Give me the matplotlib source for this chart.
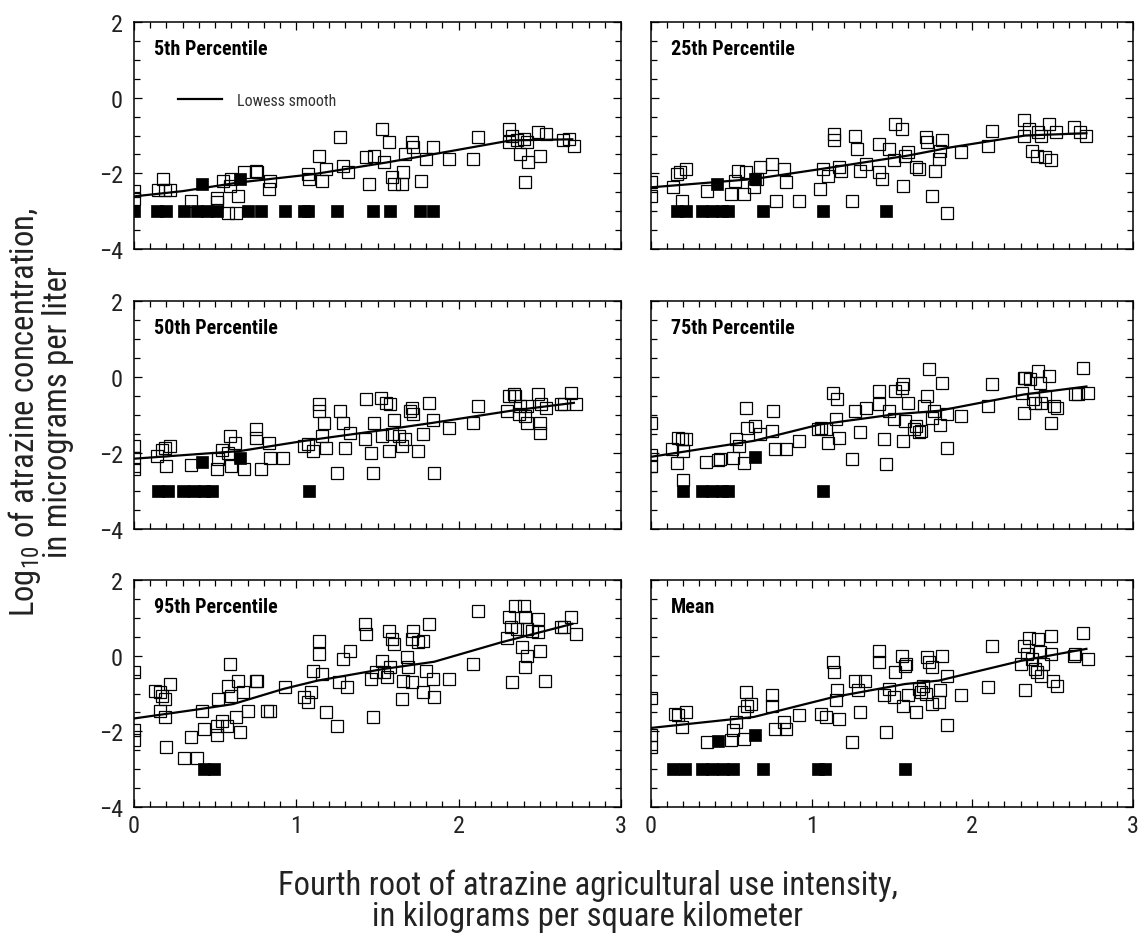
import matplotlib
matplotlib.use("Agg")
import matplotlib.pyplot as plt
from matplotlib.ticker import MultipleLocator

plt.rcParams["font.family"] = ["Roboto Condensed", "DejaVu Sans"]
plt.rcParams["mathtext.fontset"] = "custom"
plt.rcParams["mathtext.rm"] = "Roboto Condensed"
plt.rcParams["mathtext.it"] = "Roboto Condensed"
plt.rcParams["mathtext.bf"] = "Roboto Condensed:bold"

# --- 5th percentile ---
p05_x = [0, 0, 0.18, 0.15, 0.19, 0.22, 0.35, 0.51, 0.55, 0.59, 0.60, 0.64, 0.58, 0.63, 0.68, 0.75,
         0.76, 0.83, 0.84, 0.51, 1.07, 1.08, 1.14, 1.16, 1.18, 1.27, 1.29, 1.32, 1.43, 1.45, 1.48,
         1.53, 1.54, 1.57, 1.59, 1.60, 1.65, 1.66, 1.67, 1.71, 1.72, 1.77, 1.80, 1.84, 1.94, 2.12,
         2.09, 2.31, 2.33, 2.31, 2.36, 2.40, 2.41, 2.38, 2.43, 2.49, 2.50, 2.54, 2.64, 2.68, 2.71,
         2.42]
p05_y = [-2.46, -2.68, -2.15, -2.43, -2.43, -2.43, -2.73, -2.77, -2.19, -2.33, -2.15, -2.59, -3.04,
         -3.04, -1.97, -1.93, -1.97, -2.42, -2.19, -2.64, -2.02, -2.15, -1.53, -2.19, -1.88, -1.04,
         -1.80, -1.97, -1.58, -2.28, -1.53, -0.82, -1.71, -1.18, -2.11, -2.28, -2.28, -1.97, -1.49,
         -1.18, -1.31, -2.19, -1.62, -1.31, -1.62, -1.04, -1.62, -0.82, -1.00, -1.18, -1.13, -1.09,
         -2.24, -1.49, -1.71, -0.91, -1.53, -0.96, -1.13, -1.09, -1.27, -1.18]
p05_cens_x = [0, 0.14, 0.20, 0.31, 0.39, 0.45, 0.51, 0.70, 0.78, 0.93, 1.05, 1.07, 1.25, 1.47,
              1.58, 1.76, 1.84, 0.42, 0.65]
p05_cens_y = [-3, -3, -3, -3, -3, -3, -3, -3, -3, -3, -3, -3, -3, -3, -3, -3, -3, -2.28, -2.15]
p05_smooth_x = [0, 0.30, 0.65, 1.11, 1.56, 1.85, 2.32, 2.70]
p05_smooth_y = [-2.61, -2.47, -2.24, -2.02, -1.71, -1.49, -1.13, -1.10]

# --- 25th percentile ---
p25_x = [0, 0, 0.14, 0.16, 0.18, 0.22, 0.19, 0.35, 0.50, 0.52, 0.54, 0.59, 0.58, 0.64, 0.66,
         0.68, 0.75, 0.78, 0.83, 0.84, 0.92, 1.05, 1.07, 1.10, 1.14, 1.14, 1.17, 1.18, 1.25, 1.27,
         1.28, 1.30, 1.34, 1.42, 1.44, 1.42, 1.48, 1.52, 1.56, 1.51, 1.57, 1.58, 1.60, 1.65, 1.67,
         1.71, 1.72, 1.75, 1.77, 1.79, 1.81, 1.80, 1.84, 1.93, 2.10, 2.12, 2.32, 2.32, 2.35, 2.37,
         2.40, 2.41, 2.43, 2.45, 2.48, 2.49, 2.52, 2.63, 2.67, 2.71]
p25_y = [-2.24, -2.59, -2.37, -2.02, -1.97, -1.88, -2.73, -2.46, -2.55, -2.19, -1.93, -1.97, -2.55,
         -2.37, -2.15, -1.84, -1.75, -2.73, -1.88, -2.24, -2.73, -2.42, -1.88, -2.06, -0.96, -1.13,
         -1.84, -1.93, -2.73, -1.00, -1.35, -1.93, -1.75, -1.22, -2.15, -1.97, -1.35, -0.69, -0.82,
         -1.66, -2.33, -1.53, -1.44, -1.84, -1.88, -1.04, -1.18, -2.59, -1.93, -1.62, -1.13, -1.40,
         -3.04, -1.44, -1.27, -0.87, -0.60, -1.00, -0.82, -1.40, -1.53, -0.91, -1.00, -1.58, -0.69,
         -1.66, -0.91, -0.78, -0.91, -1.00]
p25_cens_x = [0.16, 0.22, 0.32, 0.38, 0.44, 0.48, 0.70, 1.07, 1.46, 0.41, 0.65]
p25_cens_y = [-3, -3, -3, -3, -3, -3, -3, -3, -3, -2.28, -2.15]
p25_smooth_x = [0, 0.64, 1.13, 1.60, 1.87, 2.33, 2.71]
p25_smooth_y = [-2.37, -2.15, -1.84, -1.53, -1.31, -1.00, -0.94]

# --- 50th percentile ---
p50_x = [0, 0, 0, 0.14, 0.17, 0.19, 0.22, 0.20, 0.35, 0.51, 0.52, 0.54, 0.58, 0.59, 0.60, 0.62,
         0.68, 0.75, 0.75, 0.78, 0.83, 0.84, 0.92, 1.05, 1.07, 1.10, 1.14, 1.14, 1.16, 1.17, 1.18,
         1.25, 1.27, 1.29, 1.30, 1.33, 1.42, 1.43, 1.46, 1.47, 1.48, 1.52, 1.53, 1.55, 1.58, 1.57,
         1.59, 1.60, 1.63, 1.65, 1.67, 1.70, 1.71, 1.72, 1.75, 1.78, 1.82, 1.84, 1.85, 1.94, 2.09,
         2.12, 2.30, 2.31, 2.34, 2.35, 2.37, 2.38, 2.41, 2.42, 2.42, 2.49, 2.50, 2.50, 2.51, 2.54,
         2.63, 2.65, 2.69, 2.72]
p50_y = [-1.82, -2.12, -2.43, -2.08, -1.91, -1.86, -1.82, -2.34, -2.32, -2.43, -2.17, -1.91, -1.99,
         -1.55, -2.34, -1.73, -2.43, -1.38, -1.60, -2.43, -1.73, -2.12, -2.12, -1.82, -1.77, -1.95,
         -0.72, -0.89, -1.55, -1.20, -1.86, -2.52, -0.89, -1.20, -1.86, -1.47, -1.64, -0.59, -1.99,
         -2.52, -1.20, -0.54, -1.55, -0.68, -0.72, -1.95, -1.51, -1.12, -1.55, -1.82, -1.64, -0.89,
         -0.81, -0.98, -1.95, -1.51, -0.68, -1.12, -2.52, -1.33, -1.20, -0.76, -0.89, -0.50, -0.46,
         -0.50, -0.98, -0.76, -1.03, -1.20, -0.76, -0.46, -1.47, -1.20, -0.72, -0.81, -0.72, -0.72,
         -0.41, -0.72]
p50_cens_x = [0.15, 0.21, 0.30, 0.37, 0.43, 0.48, 1.08, 0.42, 0.65]
p50_cens_y = [-3, -3, -3, -3, -3, -3, -3, -2.24, -2.12]
p50_smooth_x = [0, 0.65, 1.05, 1.56, 1.85, 2.32, 2.71]
p50_smooth_y = [-2.15, -1.95, -1.68, -1.38, -1.20, -0.89, -0.68]

# --- 75th percentile ---
p75_x = [0, 0, 0, 0.13, 0.16, 0.17, 0.19, 0.20, 0.22, 0.20, 0.34, 0.42, 0.43, 0.51, 0.53, 0.55,
         0.58, 0.59, 0.60, 0.65, 0.68, 0.75, 0.76, 0.77, 0.84, 0.92, 1.04, 1.06, 1.09, 1.10, 1.13,
         1.16, 1.15, 1.17, 1.25, 1.27, 1.30, 1.34, 1.42, 1.42, 1.45, 1.46, 1.48, 1.51, 1.52, 1.56,
         1.57, 1.57, 1.58, 1.60, 1.64, 1.65, 1.67, 1.68, 1.70, 1.72, 1.73, 1.75, 1.76, 1.80, 1.81,
         1.84, 1.84, 1.93, 2.10, 2.12, 2.31, 2.32, 2.32, 2.33, 2.36, 2.38, 2.39, 2.41, 2.42, 2.43,
         2.45, 2.48, 2.49, 2.51, 2.53, 2.64, 2.66, 2.69, 2.72]
p75_y = [-1.20, -2.04, -2.34, -1.90, -2.25, -1.60, -1.64, -1.95, -1.64, -2.71, -2.24, -2.18, -2.17,
         -2.12, -1.64, -1.82, -2.25, -0.81, -1.33, -1.29, -1.51, -1.42, -0.89, -1.90, -1.90, -1.68,
         -1.38, -1.33, -1.38, -1.73, -0.41, -0.59, -1.11, -1.60, -2.17, -0.89, -1.46, -0.81, -0.37,
         -0.72, -1.64, -2.30, -0.89, -1.11, -0.37, -0.28, -0.19, -1.68, -1.16, -0.68, -1.38, -1.29,
         -1.46, -1.42, -0.76, -0.50, 0.20, -1.07, -0.89, -1.25, -0.15, -0.98, -1.86, -1.03, -0.76,
         -0.19, -0.41, -0.02, -0.94, -0.02, -0.06, -0.59, -0.68, 0.16, -0.15, -0.68, -0.50, 0.03,
         -1.20, -0.76, -0.81, -0.46, -0.46, 0.25, -0.41]
p75_cens_x = [0.20, 0.32, 0.38, 0.44, 0.48, 1.07, 0.65]
p75_cens_y = [-3, -3, -3, -3, -3, -3, -2.10]
p75_smooth_x = [0, 0.64, 1.05, 1.52, 1.79, 2.32, 2.71]
p75_smooth_y = [-2.10, -1.68, -1.25, -0.98, -0.89, -0.46, -0.25]

# --- 95th percentile ---
p95_x = [0, 0, 0, 0.13, 0.16, 0.17, 0.19, 0.22, 0.16, 0.19, 0.20, 0.31, 0.39, 0.35, 0.42, 0.43,
         0.51, 0.51, 0.52, 0.54, 0.57, 0.58, 0.59, 0.60, 0.63, 0.64, 0.65, 0.67, 0.70, 0.75, 0.76,
         0.82, 0.84, 0.93, 1.05, 1.07, 1.09, 1.10, 1.14, 1.14, 1.16, 1.18, 1.25, 1.26, 1.29, 1.31,
         1.33, 1.42, 1.43, 1.46, 1.47, 1.49, 1.53, 1.54, 1.56, 1.57, 1.59, 1.60, 1.58, 1.65, 1.66,
         1.68, 1.69, 1.71, 1.72, 1.71, 1.75, 1.78, 1.78, 1.80, 1.82, 1.84, 1.85, 1.94, 2.09, 2.12,
         2.30, 2.31, 2.32, 2.33, 2.35, 2.36, 2.39, 2.40, 2.41, 2.42, 2.42, 2.41, 2.45, 2.49, 2.49,
         2.50, 2.53, 2.63, 2.65, 2.69, 2.72]
p95_y = [-0.42, -1.96, -2.22, -0.93, -0.97, -1.06, -1.15, -0.75, -1.45, -1.63, -2.42, -2.71, -2.71,
         -2.16, -1.45, -1.94, -2.11, -1.85, -1.15, -1.72, -1.85, -0.79, -0.22, -1.06, -1.63, -0.66,
         -2.03, -0.97, -1.45, -0.66, -0.66, -1.45, -1.45, -0.84, -1.10, -1.23, -0.97, -0.40, 0.40,
         0.04, -0.48, -1.50, -1.85, -0.70, -0.09, -0.84, 0.13, 0.84, 0.57, -0.62, -1.63, -0.44,
         -0.13, -0.44, -0.57, 0.66, 0.44, 0.31, -0.31, -1.15, -0.66, -0.04, -0.31, 0.44, 0.66, -0.70,
         0.35, 0.40, -0.97, -0.40, 0.84, -0.62, -1.10, -0.62, -0.22, 1.19, 0.48, 1.01, 0.75, -0.70,
         1.32, 0.71, 0.22, 1.32, 1.01, 0.71, 0.00, -0.31, 0.66, 0.97, 0.62, 0.13, -0.66, 0.75, 0.75,
         1.01, 0.57]
p95_cens_x = [0.43, 0.49]
p95_cens_y = [-3, -3]
p95_smooth_x = [0, 0.41, 0.61, 0.92, 1.13, 1.54, 1.85, 2.26, 2.70]
p95_smooth_y = [-1.66, -1.41, -1.28, -0.88, -0.66, -0.35, -0.16, 0.35, 0.84]

# --- Mean ---
mean_x = [0, 0, 0, 0.15, 0.17, 0.19, 0.22, 0.35, 0.50, 0.51, 0.53, 0.58, 0.58, 0.59, 0.60, 0.62,
          0.75, 0.75, 0.77, 0.83, 0.84, 0.92, 1.06, 1.09, 1.13, 1.14, 1.15, 1.16, 1.17, 1.25, 1.27,
          1.29, 1.30, 1.33, 1.42, 1.42, 1.45, 1.46, 1.48, 1.51, 1.52, 1.56, 1.57, 1.58, 1.59, 1.60,
          1.65, 1.67, 1.68, 1.69, 1.71, 1.72, 1.73, 1.75, 1.75, 1.79, 1.80, 1.81, 1.84, 1.84, 1.93,
          2.10, 2.12, 2.32, 2.30, 2.33, 2.34, 2.35, 2.37, 2.39, 2.40, 2.41, 2.42, 2.43, 2.44, 2.49,
          2.49, 2.50, 2.53, 2.63, 2.64, 2.69, 2.72]
mean_y = [-1.12, -2.11, -2.41, -1.54, -1.58, -1.89, -1.49, -2.28, -2.24, -1.97, -1.75, -1.49,
          -2.19, -0.96, -1.32, -1.27, -1.05, -1.32, -1.93, -1.75, -1.93, -1.58, -1.54, -1.62, -0.18,
          -0.44, -1.18, -0.92, -1.67, -2.28, -0.66, -0.92, -1.49, -0.66, 0.13, -0.18, -1.05, -2.02,
          -0.88, -1.10, -0.44, 0.00, -1.32, -0.26, -0.22, -1.05, -1.49, -0.88, -0.96, -0.79, -1.01,
          -0.04, -0.18, -0.31, -1.27, -1.23, -0.92, 0.00, -0.54, -1.84, -1.05, -0.83, 0.26, 0.26,
          -0.22, -0.92, 0.04, 0.48, -0.09, -0.35, -0.44, 0.44, 0.09, -0.53, -0.22, 0.53, 0.04, -0.66,
          -0.79, 0.00, 0.04, 0.61, -0.09]
mean_cens_x = [0.14, 0.21, 0.32, 0.38, 0.45, 0.51, 0.70, 1.04, 1.08, 1.58, 0.42, 0.65]
mean_cens_y = [-3, -3, -3, -3, -3, -3, -3, -3, -3, -3, -2.25, -2.09]
mean_smooth_x = [0, 0.64, 1.13, 1.58, 1.79, 2.31, 2.71]
mean_smooth_y = [-1.91, -1.62, -1.10, -0.75, -0.66, -0.13, 0.18]

panel_titles = ["5th Percentile", "25th Percentile", "50th Percentile",
                "75th Percentile", "95th Percentile", "Mean"]
panels = [
    (p05_x, p05_y, p05_cens_x, p05_cens_y, p05_smooth_x, p05_smooth_y),
    (p25_x, p25_y, p25_cens_x, p25_cens_y, p25_smooth_x, p25_smooth_y),
    (p50_x, p50_y, p50_cens_x, p50_cens_y, p50_smooth_x, p50_smooth_y),
    (p75_x, p75_y, p75_cens_x, p75_cens_y, p75_smooth_x, p75_smooth_y),
    (p95_x, p95_y, p95_cens_x, p95_cens_y, p95_smooth_x, p95_smooth_y),
    (mean_x, mean_y, mean_cens_x, mean_cens_y, mean_smooth_x, mean_smooth_y),
]

W, H = 1144, 937
fig = plt.figure(figsize=(W / 100, H / 100), dpi=100)

# panel boxes in pixels: (left, right) per column, (top, bottom) per row
col_px = [(134, 621), (651, 1133)]
row_px = [(23, 250), (302, 530), (581, 808)]

for i, (title, (ox, oy, cx, cy, sx, sy)) in enumerate(zip(panel_titles, panels)):
    row, col = divmod(i, 2)
    (l, r), (t, b) = col_px[col], row_px[row]
    ax = fig.add_axes([l / W, 1 - b / H, (r - l) / W, (b - t) / H])

    ax.plot(ox, oy, ls="none", marker="s", ms=9.2, mfc="none", mec="black", mew=0.9, zorder=2)
    ax.plot(cx, cy, ls="none", marker="s", ms=8.6, mfc="black", mec="black", mew=0.5, zorder=2)
    line, = ax.plot(sx, sy, color="black", lw=1.6, zorder=3, label="Lowess smooth")

    ax.set_xlim(0, 3)
    ax.set_ylim(-4, 2)
    ax.xaxis.set_major_locator(MultipleLocator(1))
    ax.xaxis.set_minor_locator(MultipleLocator(0.1))
    ax.yaxis.set_major_locator(MultipleLocator(2))
    ax.yaxis.set_minor_locator(MultipleLocator(0.5))
    ax.tick_params(which="both", direction="in", top=True, right=True, width=0.9)
    ax.tick_params(which="major", length=6, labelsize=17.5, labelcolor="#222222")
    ax.tick_params(which="minor", length=4)
    ax.tick_params(axis="x", pad=5)
    ax.tick_params(axis="y", pad=8)
    for sp in ax.spines.values():
        sp.set_linewidth(1.1)

    if row < 2:
        ax.tick_params(axis="x", labelbottom=False)
    if col == 1:
        ax.tick_params(axis="y", labelleft=False)

    ax.text(0.041, 0.925, title, transform=ax.transAxes, ha="left", va="top",
            fontsize=14.5, fontweight="bold")

    if i == 0:
        ax.legend(handles=[line], loc="center left", bbox_to_anchor=(0.06, 0.655),
                  frameon=False, fontsize=11.5, handlelength=2.8, handletextpad=0.9,
                  labelcolor="#333333")

fig.text(40 / W, 1 - 412 / H,
         "Log$_{10}$ of atrazine concentration,\nin micrograms per liter",
         rotation=90, ha="center", va="center", fontsize=23.5, linespacing=0.92,
         color="#222222")
fig.text(588 / W, 1 - 901 / H,
         "Fourth root of atrazine agricultural use intensity,\nin kilograms per square kilometer",
         ha="center", va="center", fontsize=23.5, linespacing=0.95, color="#222222")

fig.savefig("out.png", dpi=100)
